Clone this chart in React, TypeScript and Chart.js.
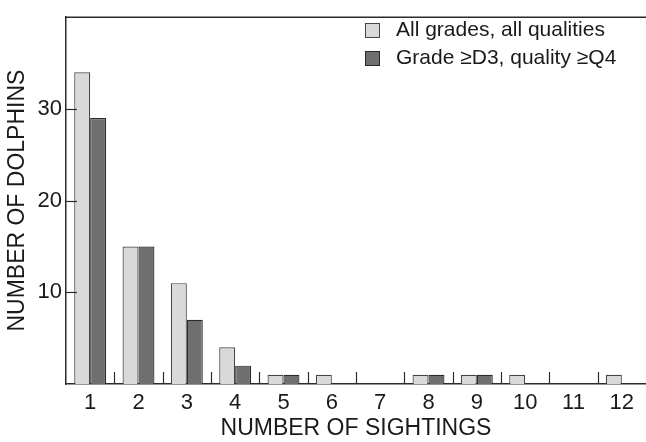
import React, { useEffect, useRef } from "react";
import { Chart, registerables } from "chart.js";

Chart.register(...registerables);

const categories = ["1", "2", "3", "4", "5", "6", "7", "8", "9", "10", "11", "12"];
const allGrades = [34, 15, 11, 4, 1, 1, 0, 1, 1, 1, 0, 1];
const highQuality = [29, 15, 7, 2, 1, 0, 0, 1, 1, 0, 0, 0];
const seriesLabels = ["All grades, all qualities", "Grade \u2265D3, quality \u2265Q4"];
const yTickValues = [10, 20, 30];

const FONT = "'Liberation Sans', Arial, Helvetica, sans-serif";
const AXIS_COLOR = "#2b2b2b";
const TEXT_COLOR = "#1a1a1a";

const framePlugin = {
  id: "frame",
  afterDatasetsDraw(chart: any) {
    const { ctx, chartArea, scales } = chart;
    const x = scales.x;
    const y = scales.y;
    ctx.save();
    ctx.strokeStyle = AXIS_COLOR;
    ctx.lineWidth = 1.5;
    // top border
    ctx.beginPath();
    ctx.moveTo(chartArea.left, chartArea.top);
    ctx.lineTo(chartArea.right, chartArea.top);
    ctx.stroke();
    // y inward ticks
    ctx.lineWidth = 1.2;
    yTickValues.forEach((v) => {
      const py = Math.round(y.getPixelForValue(v)) + 0.5;
      ctx.beginPath();
      ctx.moveTo(chartArea.left, py);
      ctx.lineTo(chartArea.left + 11, py);
      ctx.stroke();
    });
    // x inward ticks at category boundaries
    for (let i = 1; i < categories.length; i++) {
      const px = Math.round((x.getPixelForValue(i - 1) + x.getPixelForValue(i)) / 2) + 0.5;
      ctx.beginPath();
      ctx.moveTo(px, chartArea.bottom);
      ctx.lineTo(px, chartArea.bottom - 12);
      ctx.stroke();
    }
    // legend
    const ds = chart.data.datasets;
    const boxX = 365;
    const rows = [30, 58];
    ctx.font = `21px ${FONT}`;
    ctx.textBaseline = "middle";
    ctx.textAlign = "left";
    ds.forEach((d: any, i: number) => {
      const cy = rows[i];
      ctx.fillStyle = d.backgroundColor;
      ctx.fillRect(boxX, cy - 7, 15, 15);
      ctx.strokeStyle = d.borderColor;
      ctx.lineWidth = 1;
      ctx.strokeRect(boxX + 0.5, cy - 6.5, 14, 14);
      ctx.fillStyle = TEXT_COLOR;
      ctx.fillText(d.label, 396, cy);
    });
    ctx.restore();
  },
};

export default function App() {
  const ref = useRef<HTMLCanvasElement>(null);
  useEffect(() => {
    if (!ref.current) return;
    const chart = new Chart(ref.current, {
      type: "bar",
      data: {
        labels: categories,
        datasets: [
          {
            label: seriesLabels[0],
            data: allGrades,
            backgroundColor: "#d9d9d9",
            borderColor: "#454545",
            borderWidth: 1.2,
            barPercentage: 1,
            categoryPercentage: 0.66,
          },
          {
            label: seriesLabels[1],
            data: highQuality,
            backgroundColor: "#6f6f6f",
            borderColor: "#2a2a2a",
            borderWidth: 1.2,
            barPercentage: 1,
            categoryPercentage: 0.66,
          },
        ],
      },
      options: {
        animation: false,
        responsive: false,
        maintainAspectRatio: false,
        layout: { padding: { top: 7, right: 0, left: 0, bottom: 0 } },
        plugins: { legend: { display: false }, tooltip: { enabled: false } },
        scales: {
          x: {
            grid: { display: false, drawTicks: false },
            border: { display: true, color: AXIS_COLOR, width: 1.5 },
            ticks: { color: TEXT_COLOR, font: { family: FONT, size: 22 }, padding: 6, maxRotation: 0, autoSkip: false },
            title: {
              display: true,
              text: "NUMBER OF SIGHTINGS",
              color: TEXT_COLOR,
              font: { family: FONT, size: 23 },
              padding: { top: 0, bottom: 0 },
            },
            afterFit(scale: any) {
              scale.height = 58;
            },
          },
          y: {
            min: 0,
            max: 40,
            grid: { display: false, drawTicks: false },
            border: { display: true, color: AXIS_COLOR, width: 1.5 },
            ticks: {
              stepSize: 10,
              color: TEXT_COLOR,
              font: { family: FONT, size: 22 },
              padding: 4,
              callback: (v: any) => (yTickValues.includes(Number(v)) ? String(v) : ""),
            },
            title: {
              display: true,
              text: "NUMBER OF DOLPHINS",
              color: TEXT_COLOR,
              font: { family: FONT, size: 23 },
              padding: { top: 4, bottom: 0 },
            },
            afterFit(scale: any) {
              scale.width = 66;
            },
          },
        },
      },
      plugins: [framePlugin],
    });
    return () => chart.destroy();
  }, []);
  return (
    <div style={{ position: "absolute", left: 0, top: 0, width: 646, height: 442, background: "#fff" }}>
      <canvas ref={ref} width={646} height={442} style={{ width: 646, height: 442, display: "block" }} />
    </div>
  );
}
